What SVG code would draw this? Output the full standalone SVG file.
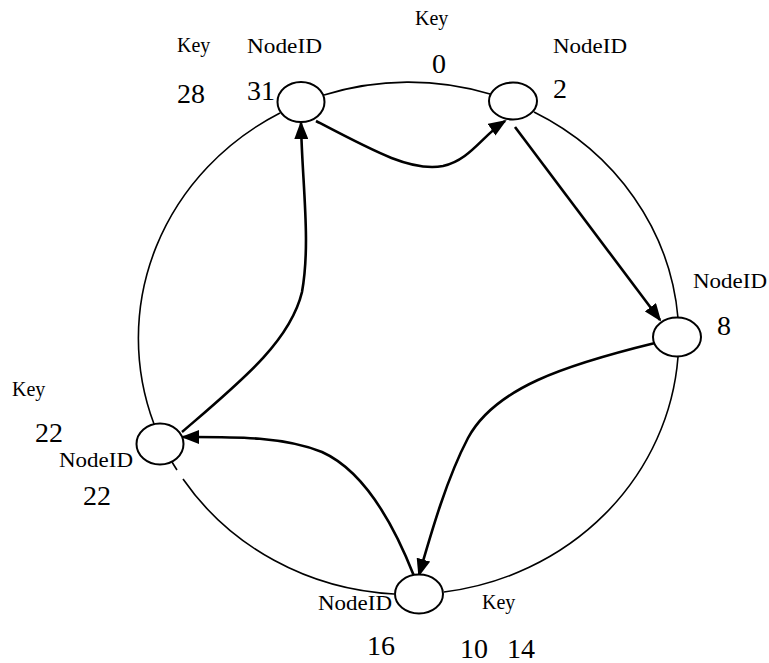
<svg xmlns="http://www.w3.org/2000/svg" width="769" height="663" viewBox="0 0 769 663">
<style>
.node{fill:#fff;stroke:#000;stroke-width:2}
.ring{fill:none;stroke:#000;stroke-width:1.6}
.arrow{fill:none;stroke:#000;stroke-width:2.6}
.lbl{font-family:"Liberation Serif","DejaVu Serif",serif;font-size:20px;fill:#000}
.num{font-family:"Liberation Serif","DejaVu Serif",serif;font-size:28px;fill:#000}
</style>
<defs>
<marker id="ah" viewBox="0 0 18 14" refX="16" refY="7" markerWidth="18" markerHeight="14" markerUnits="userSpaceOnUse" orient="auto">
<path d="M0,0 L18,7 L0,14 z" fill="#000"/>
</marker>
</defs>
<rect width="769" height="663" fill="#fff"/>
<g id="connectors">
<g id="ring">
<path class="ring" d="M324,95 A270 256 0 0 1 490,94"/>
<path class="ring" d="M534,112 A270 256 0 0 1 678,318"/>
<path class="ring" d="M678,357 A270 256 0 0 1 444,592"/>
<path class="ring" d="M394,594 A270 256 0 0 1 183,479"/>
<path class="ring" d="M177,470 A270 256 0 0 1 172,462"/>
<path class="ring" d="M154,424 A270 256 0 0 1 280,113"/>
</g>
<path class="arrow" marker-end="url(#ah)" d="M316,121 C375,152 412,172 443,166 C470,160 482,136 505,121"/>
<path class="arrow" marker-end="url(#ah)" d="M515,127 L660,320"/>
<path class="arrow" marker-end="url(#ah)" d="M655,343 C565,365 495,388 468,438 C447,478 432,530 419,575"/>
<path class="arrow" marker-end="url(#ah)" d="M414,576 C392,520 362,470 322,452 C282,436 232,437 183,437"/>
<path class="arrow" marker-end="url(#ah)" d="M182,432 C240,382 290,342 302,292 C311,242 302,182 301,123"/>
</g>
<g id="node-31">
<ellipse class="node" cx="301" cy="102" rx="23.5" ry="20"/>
<text class="lbl" x="177" y="52">Key</text>
<text class="num" x="177" y="103">28</text>
<text class="lbl" x="247" y="53" textLength="75" lengthAdjust="spacingAndGlyphs">NodeID</text>
<text class="num" x="247" y="100">31</text>
<text class="lbl" x="415" y="25">Key</text>
<text class="num" x="432" y="73">0</text>
</g>
<g id="node-2">
<ellipse class="node" cx="513" cy="101" rx="24" ry="18.5"/>
<text class="lbl" x="553" y="53" textLength="74" lengthAdjust="spacingAndGlyphs">NodeID</text>
<text class="num" x="553" y="98">2</text>
</g>
<g id="node-8">
<ellipse class="node" cx="677" cy="337" rx="24" ry="19.5"/>
<text class="lbl" x="693" y="288" textLength="74" lengthAdjust="spacingAndGlyphs">NodeID</text>
<text class="num" x="717" y="335">8</text>
</g>
<g id="node-22">
<ellipse class="node" cx="160" cy="444" rx="23.5" ry="20.5"/>
<text class="lbl" x="12" y="396">Key</text>
<text class="num" x="35" y="442">22</text>
<text class="lbl" x="59" y="467" textLength="74" lengthAdjust="spacingAndGlyphs">NodeID</text>
<text class="num" x="83" y="505">22</text>
</g>
<g id="node-16">
<ellipse class="node" cx="419" cy="594" rx="24" ry="19.5"/>
<text class="lbl" x="318" y="610" textLength="74" lengthAdjust="spacingAndGlyphs">NodeID</text>
<text class="lbl" x="482" y="609">Key</text>
<text class="num" x="367" y="655">16</text>
<text class="num" x="460" y="658">10</text>
<text class="num" x="507" y="658">14</text>
</g>
</svg>
